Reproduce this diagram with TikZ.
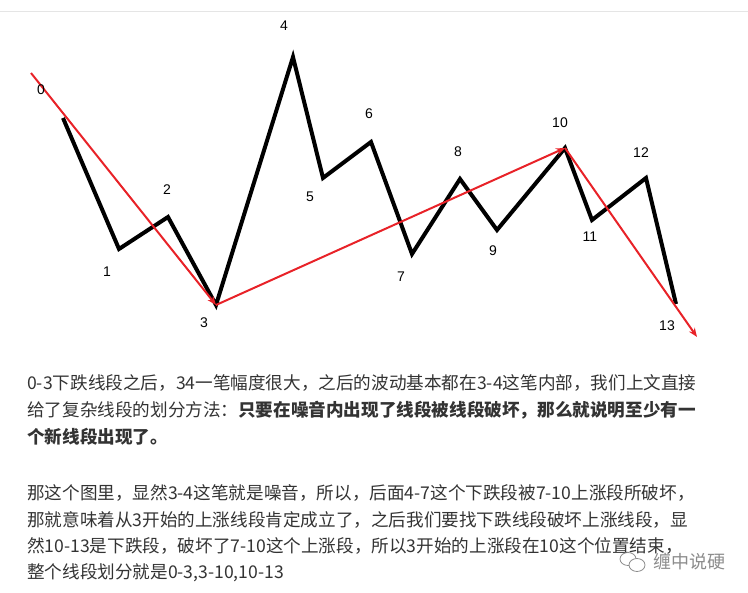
\documentclass[tikz,border=0pt]{standalone}
\usepackage{fontspec}
\setmainfont{Noto Sans CJK SC}
\newfontfamily\numfont{Liberation Sans}
\usetikzlibrary{arrows.meta,positioning}
\definecolor{segred}{RGB}{232,34,40}
\definecolor{bodytext}{RGB}{51,51,51}
\definecolor{rulegray}{RGB}{229,229,229}

\begin{document}
\begin{tikzpicture}[
      x=1pt,y=-1pt,
      strokeline/.style={line width=4pt,miter limit=10},
      segline/.style={draw=segred,line width=2pt},
      segarrow/.style={segline,-{Stealth[length=9pt,width=7pt]}},
      ptlabel/.style={font=\numfont\fontsize{14}{16}\selectfont,inner sep=0pt},
      bodyline/.style={anchor=west,inner sep=0pt,text=bodytext,
        font=\fontsize{17.6}{27}\selectfont},
      wmark/.style={font=\fontsize{18}{20}\selectfont,text=black!45,inner sep=0pt}
    ]
    \useasboundingbox (0,0) rectangle (748,593);
    \draw[rulegray,line width=1pt] (0,12) -- (748,12);

    % turning points of the strokes
    \coordinate (p0) at (63,118);
    \coordinate (p1) at (119,249);
    \coordinate (p2) at (168,217);
    \coordinate (p3) at (216,305);
    \coordinate (p4) at (293,57);
    \coordinate (p5) at (323,178);
    \coordinate (p6) at (371,142);
    \coordinate (p7) at (412,254);
    \coordinate (p8) at (460,179);
    \coordinate (p9) at (497,230);
    \coordinate (p10) at (565,148);
    \coordinate (p11) at (592,220);
    \coordinate (p12) at (646,178);
    \coordinate (p13) at (676,304);
    \coordinate (segstart) at (31,73);
    \coordinate (segend) at (697,337);

    \draw[strokeline] (p0) -- (p1) -- (p2) -- (p3) -- (p4) -- (p5) -- (p6)
      -- (p7) -- (p8) -- (p9) -- (p10) -- (p11) -- (p12) -- (p13);

    \draw[segarrow] (segstart) -- (p3);
    \draw[segarrow] (p3) -- (p10);
    \draw[segarrow] (p10) -- (segend);

    \node[ptlabel] (l0) at (41,90) {0};
    \node[ptlabel] (l1) at (107,272) {1};
    \node[ptlabel] (l2) at (167,190) {2};
    \node[ptlabel] (l3) at (204,323) {3};
    \node[ptlabel] (l4) at (284,26) {4};
    \node[ptlabel] (l5) at (310,197) {5};
    \node[ptlabel] (l6) at (369,114) {6};
    \node[ptlabel] (l7) at (401,277) {7};
    \node[ptlabel] (l8) at (458,152) {8};
    \node[ptlabel] (l9) at (493,251) {9};
    \node[ptlabel] (l10) at (560,123) {10};
    \node[ptlabel] (l11) at (590,237) {11};
    \node[ptlabel] (l12) at (641,153) {12};
    \node[ptlabel] (l13) at (667,326) {13};

    % paragraph text
    \node[bodyline] (line1) at (27,383)
      {0-3下跌线段之后，34一笔幅度很大，之后的波动基本都在3-4这笔内部，我们上文直接};
    \node[bodyline] (line2) at (27,410)
      {给了复杂线段的划分方法：\textbf{只要在噪音内出现了线段被线段破坏，那么就说明至少有一}};
    \node[bodyline] (line3) at (27,437) {\textbf{个新线段出现了。}};
    \node[bodyline] (line4) at (27,493)
      {那这个图里，显然3-4这笔就是噪音，所以，后面4-7这个下跌段被7-10上涨段所破坏，};
    \node[bodyline] (line5) at (27,520)
      {那就意味着从3开始的上涨线段肯定成立了，之后我们要找下跌线段破坏上涨线段，显};
    \node[bodyline] (line6) at (27,546)
      {然10-13是下跌段，破坏了7-10这个上涨段，所以3开始的上涨段在10这个位置结束，};
    \node[bodyline] (line7) at (27,573) {整个线段划分就是0-3,3-10,10-13};

    % watermark
    \draw[black!45,line width=0.8pt] (628,559) ellipse (8pt and 6.5pt);
    \draw[black!45,line width=0.8pt,fill=white] (637,565) ellipse (8pt and 6.5pt);
    \node[wmark] (wm) at (689,562) {缠中说硬};
  \end{tikzpicture}
\end{document}
